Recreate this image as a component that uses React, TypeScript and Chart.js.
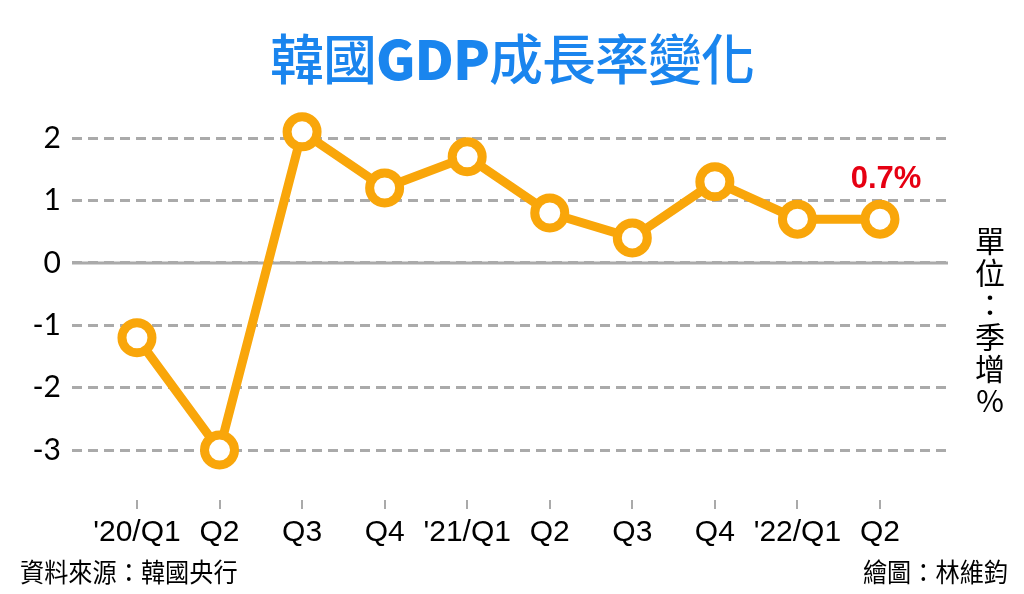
import { useEffect, useRef } from "react";
import { Chart, registerables } from "chart.js";

Chart.register(...registerables);

const quarters = ["'20/Q1", "Q2", "Q3", "Q4", "'21/Q1", "Q2", "Q3", "Q4", "'22/Q1", "Q2"];
const growth = [-1.2, -3.0, 2.1, 1.2, 1.7, 0.8, 0.4, 1.3, 0.7, 0.7];
const yTicks = [-3, -2, -1, 0, 1, 2];
const lastLabel = "0.7%";

const ORANGE = "#f9a60a";
const GRID = "#aaaaaa";

// solid zero line on top of the dashed grid, and the red label on the last point
const extras = {
  id: "extras",
  beforeDatasetsDraw(chart: any) {
    const { ctx, chartArea, scales } = chart;
    const y = scales.y.getPixelForValue(0);
    ctx.save();
    ctx.strokeStyle = GRID;
    ctx.lineWidth = 3;
    ctx.beginPath();
    ctx.moveTo(chartArea.left, y);
    ctx.lineTo(chartArea.right, y);
    ctx.stroke();
    ctx.restore();
  },
  afterDatasetsDraw(chart: any) {
    const { ctx } = chart;
    const pts = chart.getDatasetMeta(0).data;
    const p = pts[pts.length - 1];
    ctx.save();
    ctx.fillStyle = "#e60012";
    ctx.font = "bold 31px 'Liberation Sans', Arial, sans-serif";
    ctx.textAlign = "center";
    ctx.textBaseline = "middle";
    ctx.fillText(lastLabel, p.x + 6, p.y - 40);
    ctx.restore();
  },
};

export default function App() {
  const canvasRef = useRef<HTMLCanvasElement>(null);
  const chartRef = useRef<Chart | null>(null);

  useEffect(() => {
    if (!canvasRef.current) return;
    chartRef.current?.destroy();
    chartRef.current = new Chart(canvasRef.current, {
      type: "line",
      data: {
        datasets: [
          {
            data: growth.map((v, i) => ({ x: i, y: v })),
            borderColor: ORANGE,
            borderWidth: 9,
            pointRadius: 15,
            pointBorderWidth: 9,
            pointBorderColor: ORANGE,
            pointBackgroundColor: "#ffffff",
            tension: 0,
            clip: false as any,
          },
        ],
      },
      plugins: [extras],
      options: {
        responsive: false,
        animation: false,
        layout: { padding: { top: 110, right: 76, bottom: 0, left: 0 } },
        plugins: { legend: { display: false }, tooltip: { enabled: false } },
        scales: {
          x: {
            type: "linear",
            min: -0.787,
            max: 9.824,
            afterBuildTicks: (s: any) => {
              s.ticks = quarters.map((_, i) => ({ value: i }));
            },
            afterFit: (s: any) => {
              s.height = 94;
            },
            grid: { drawOnChartArea: false, drawTicks: true, tickLength: 9, color: GRID, lineWidth: 2 },
            border: { display: false },
            ticks: {
              callback: (v: any) => quarters[v] ?? "",
              color: "#000",
              padding: 6,
              maxRotation: 0,
              autoSkip: false,
              font: { family: "'Liberation Sans', Arial, sans-serif", size: 30 },
            },
          },
          y: {
            min: -3.8,
            max: 2.45,
            afterBuildTicks: (s: any) => {
              s.ticks = yTicks.map((v) => ({ value: v }));
            },
            afterFit: (s: any) => {
              s.width = 72;
            },
            grid: { color: GRID, lineWidth: 3, drawTicks: false },
            border: { display: false, dash: [10, 6] },
            ticks: {
              color: "#000",
              padding: 11,
              font: { family: "Lato, 'DejaVu Sans', sans-serif", size: 30 },
            },
          },
        },
      },
    });
    return () => chartRef.current?.destroy();
  }, []);

  return (
    <div
      style={{
        position: "absolute",
        left: 0,
        top: 0,
        width: 1024,
        height: 594,
        background: "#fff",
        overflow: "hidden",
        fontFamily: "'Noto Sans CJK TC', sans-serif",
      }}
    >
      <div
        style={{
          position: "absolute",
          top: 25,
          left: 0,
          width: 1024,
          textAlign: "center",
          fontSize: 54,
          fontWeight: 500,
          color: "#1a85ee",
          lineHeight: "64px",
          letterSpacing: -1,
        }}
      >
        韓國<span style={{ fontWeight: 900 }}>GDP</span>成長率變化
      </div>
      <canvas ref={canvasRef} width={1024} height={594} style={{ position: "absolute", left: 0, top: 0 }} />
      <div
        style={{
          position: "absolute",
          left: 972,
          top: 226,
          writingMode: "vertical-rl",
          textOrientation: "upright",
          fontSize: 30,
          lineHeight: "36px",
          color: "#000",
          letterSpacing: 2,
        }}
      >
        單位：季增%
      </div>
      <div
        style={{
          position: "absolute",
          left: 20,
          top: 555,
          fontSize: 26,
          lineHeight: "32px",
          color: "#000",
          transform: "scaleX(0.93)",
          transformOrigin: "left center",
        }}
      >
        資料來源：韓國央行
      </div>
      <div
        style={{
          position: "absolute",
          right: 16,
          top: 555,
          fontSize: 26,
          lineHeight: "32px",
          color: "#000",
          transform: "scaleX(0.93)",
          transformOrigin: "right center",
        }}
      >
        繪圖：林維鈞
      </div>
    </div>
  );
}
